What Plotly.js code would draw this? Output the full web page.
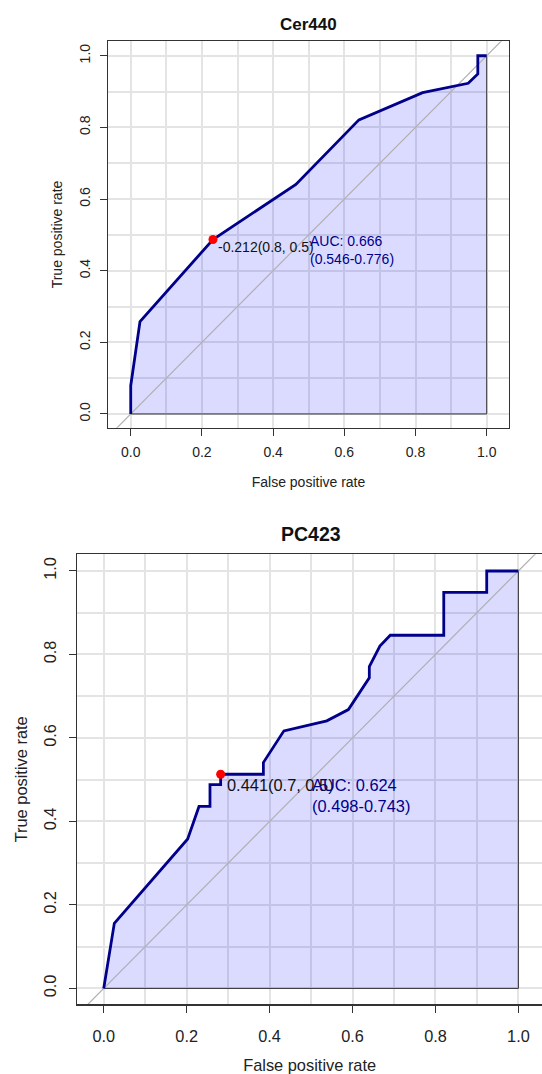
<!DOCTYPE html>
<html><head><meta charset="utf-8">
<script src="https://cdn.plot.ly/plotly-3.0.1.min.js"></script>
<style>html,body{margin:0;padding:0;background:#fff}#chart{width:542px;height:1074px}</style>
</head><body><div id="chart"></div>
<script>
// ---- data ----
const cer440Fpr = [0, 0, 0.026, 0.231, 0.464, 0.641, 0.820, 0.948, 0.975, 0.975, 1];
const cer440Tpr = [0, 0.079, 0.258, 0.487, 0.641, 0.821, 0.897, 0.923, 0.949, 1, 1];
const cer440Thr = [0.231, 0.487];
const cer440ThrLabel = "-0.212(0.8, 0.5)";
const cer440AucLines = ["AUC: 0.666", "(0.546-0.776)"];

const pc423Fpr = [0, 0.0256, 0.2025, 0.2298, 0.2563, 0.2563, 0.282, 0.282, 0.385, 0.385, 0.4345, 0.538, 0.590, 0.6405, 0.6405, 0.666, 0.691, 0.820, 0.820, 0.9236, 0.9236, 1];
const pc423Tpr = [0, 0.156, 0.358, 0.436, 0.436, 0.488, 0.488, 0.513, 0.513, 0.541, 0.617, 0.641, 0.668, 0.744, 0.771, 0.820, 0.846, 0.846, 0.949, 0.949, 1, 1];
const pc423Thr = [0.282, 0.513];
const pc423ThrLabel = "0.441(0.7, 0.5)";
const pc423AucLines = ["AUC: 0.624", "(0.498-0.743)"];

const panelTitles = ["Cer440", "PC423"];
const xTitle = "False positive rate";
const yTitle = "True positive rate";
const tickVals = [0, 0.2, 0.4, 0.6, 0.8, 1.0];
const tickText = ["0.0", "0.2", "0.4", "0.6", "0.8", "1.0"];
const minorGridVals = [0.1, 0.3, 0.5, 0.7, 0.9];
const diagEnds = [-0.2, 1.2];

// ---- styles ----
const FONT = "Liberation Sans, Arial, Helvetica, sans-serif";
const NAVY = "#00008B";
const FILL = "rgba(0,0,255,0.14)";
const GRID = "#e4e4e4";
const LINE = "#333333";

function panelTraces(fpr, tpr, thr, xa, ya) {
  return [
    {type: "scatter", mode: "lines", x: fpr.concat([1, 0]), y: tpr.concat([0, 0]),
     fill: "toself", fillcolor: FILL, line: {color: LINE, width: 1}, xaxis: xa, yaxis: ya, hoverinfo: "skip"},
    {type: "scatter", mode: "lines", x: diagEnds, y: diagEnds,
     line: {color: "#b0b0b0", width: 1.2}, xaxis: xa, yaxis: ya, hoverinfo: "skip"},
    {type: "scatter", mode: "lines", x: fpr, y: tpr,
     line: {color: NAVY, width: 2.8}, xaxis: xa, yaxis: ya},
    {type: "scatter", mode: "markers", x: [thr[0]], y: [thr[1]],
     marker: {color: "#ff0000", size: 9}, xaxis: xa, yaxis: ya}
  ];
}

function axisBase(fs, extra) {
  return Object.assign({
    tickmode: "array", tickvals: tickVals, ticktext: tickText,
    ticks: "outside", ticklen: 7, tickwidth: 1, tickcolor: LINE,
    showline: true, linecolor: LINE, linewidth: 1.2,
    showgrid: true, gridcolor: GRID, gridwidth: 2,
    minor: {tickmode: "array", tickvals: minorGridVals, showgrid: true, gridcolor: GRID, gridwidth: 2, ticks: ""},
    zeroline: false, fixedrange: true,
    tickfont: {family: FONT, size: fs, color: "#222"}
  }, extra);
}

const data = [].concat(
  panelTraces(cer440Fpr, cer440Tpr, cer440Thr, "x", "y"),
  panelTraces(pc423Fpr, pc423Tpr, pc423Thr, "x2", "y2")
);

const layout = {
  width: 542, height: 1074,
  margin: {l: 0, r: 0, t: 0, b: 0},
  paper_bgcolor: "#fff", plot_bgcolor: "#fff",
  showlegend: false,
  font: {family: FONT, color: "#222"},
  xaxis: axisBase(14, {domain: [0.1993, 0.9391], range: [-0.0638, 1.0626], anchor: "y", mirror: true, ticklabelstandoff: 4,
    title: {text: xTitle, font: {family: FONT, size: 14, color: "#222"}, standoff: 18}}),
  yaxis: axisBase(14, {domain: [0.6018, 0.9615], range: [-0.0382, 1.0402], anchor: "x", mirror: true, tickangle: -90, ticklabelstandoff: 4,
    title: {text: yTitle, font: {family: FONT, size: 14, color: "#222"}, standoff: 10.5}}),
  xaxis2: axisBase(16.3, {domain: [0.1426, 1], range: [-0.0637, 1.0569], anchor: "y2", mirror: true, ticklabelstandoff: 10,
    title: {text: xTitle, font: {family: FONT, size: 16.4, color: "#222"}, standoff: 16}}),
  yaxis2: axisBase(16.3, {domain: [0.0648, 0.4839], range: [-0.0383, 1.0400], anchor: "x2", mirror: false, tickangle: -90, ticklabelstandoff: 7,
    title: {text: yTitle, font: {family: FONT, size: 16.4, color: "#222"}, standoff: 8.3}}),
  annotations: [
    {xref: "paper", yref: "paper", x: 0.569, y: 0.9776, xanchor: "center", yanchor: "middle", showarrow: false,
     text: "<b>" + panelTitles[0] + "</b>", font: {family: FONT, size: 17, color: "#111"}},
    {xref: "paper", yref: "paper", x: 0.5747, y: 0.5028, xanchor: "center", yanchor: "middle", showarrow: false,
     text: "<b>" + panelTitles[1] + "</b>", font: {family: FONT, size: 19.5, color: "#111"}},
    {xref: "x", yref: "y", x: cer440Thr[0], y: cer440Thr[1], xanchor: "left", yanchor: "middle",
     xshift: 3.5, yshift: -7.6, showarrow: false, text: cer440ThrLabel, font: {family: FONT, size: 14, color: "#111"}},
    {xref: "x2", yref: "y2", x: pc423Thr[0], y: pc423Thr[1], xanchor: "left", yanchor: "middle",
     xshift: 4, yshift: -10.7, showarrow: false, text: pc423ThrLabel, font: {family: FONT, size: 16.4, color: "#111"}},
    {xref: "x", yref: "y", x: 0.5, y: 0.459, xanchor: "left", yanchor: "middle", align: "left", xshift: -1,
     showarrow: false, text: cer440AucLines.join("<br>"), font: {family: FONT, size: 14, color: NAVY}},
    {xref: "x2", yref: "y2", x: 0.5, y: 0.461, xanchor: "left", yanchor: "middle", align: "left", xshift: -1,
     showarrow: false, text: pc423AucLines.join("<br>"), font: {family: FONT, size: 16.4, color: NAVY}}
  ]
};

Plotly.newPlot("chart", data, layout, {displayModeBar: false, staticPlot: true});
</script>
</body></html>
